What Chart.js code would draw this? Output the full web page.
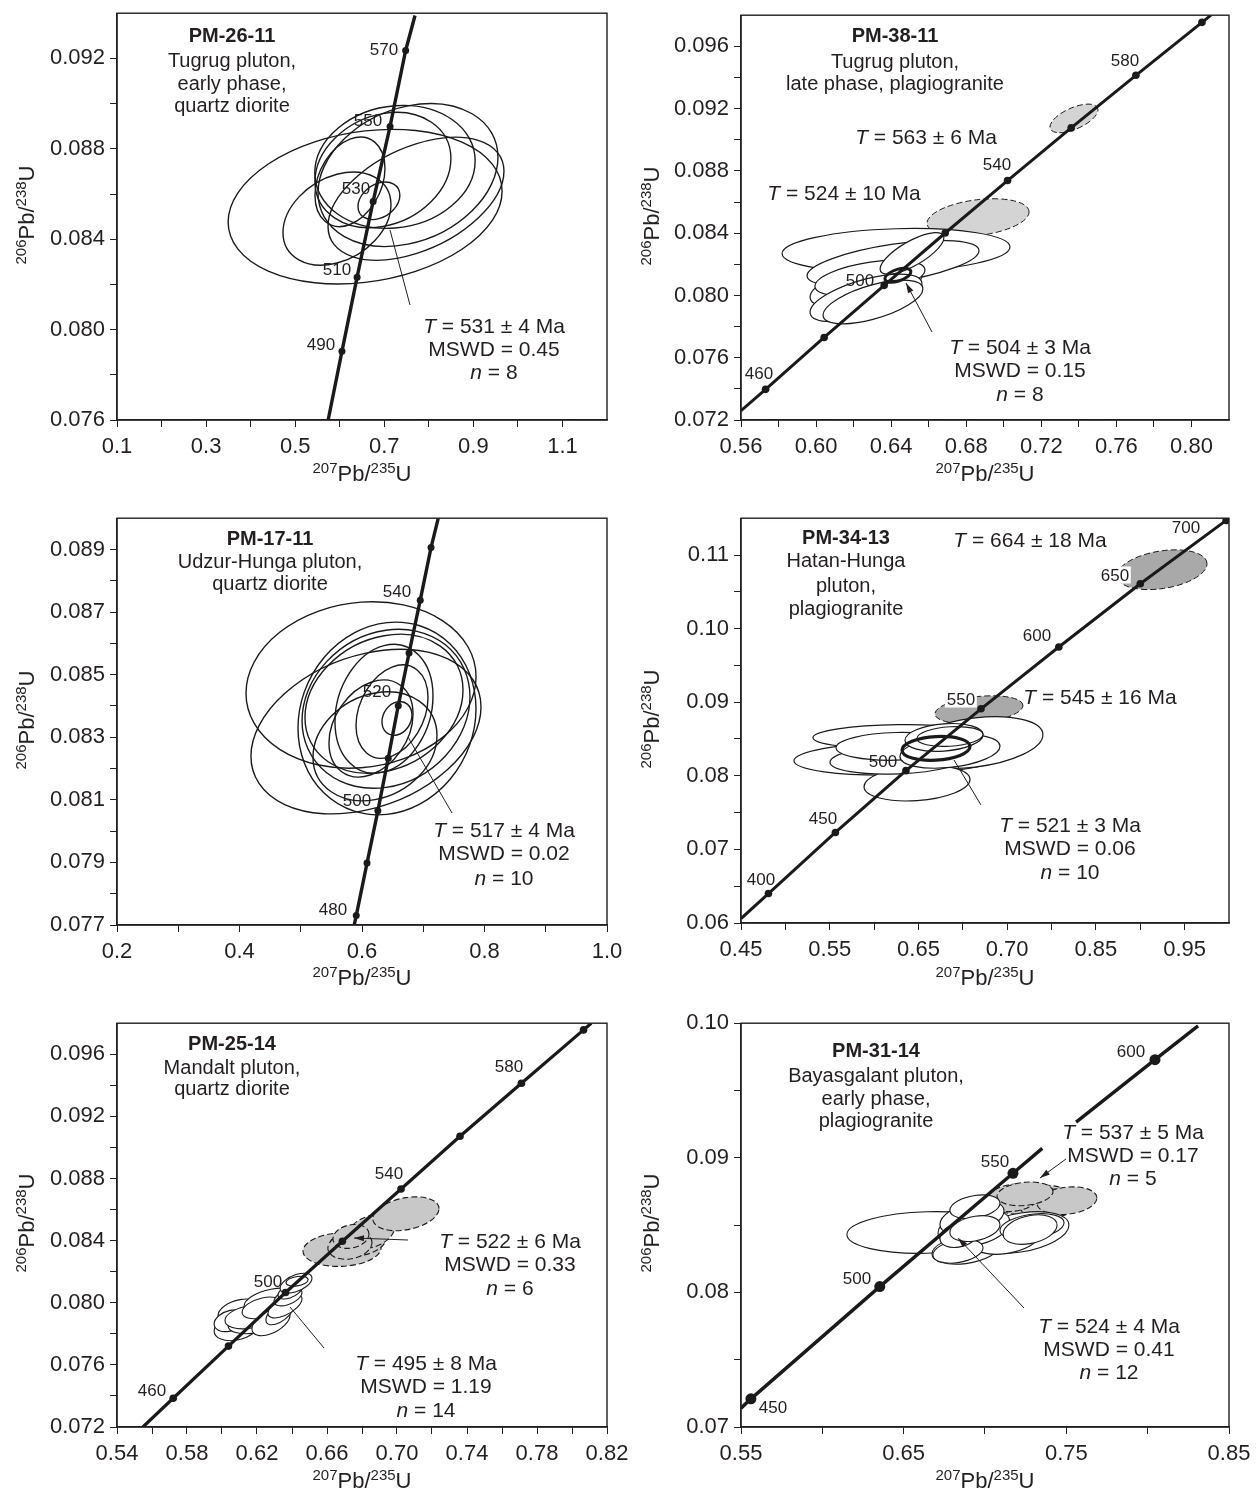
<!DOCTYPE html>
<html>
<head>
<meta charset="utf-8">
<script src="https://cdn.jsdelivr.net/npm/chart.js@4.4.1/dist/chart.umd.min.js"></script>
<style>
  body { margin: 0; background: #fff; }
  #wrap { position: relative; width: 1256px; height: 1493px; overflow: hidden; background: #fff;
          font-family: 'Liberation Sans', Arial, Helvetica, sans-serif; color: #231f20; }
  canvas { position: absolute; }
  svg { position: absolute; left: 0; top: 0; }
  .note { position: absolute; transform: translate(-50%, -50%); white-space: nowrap; line-height: 1; }
  .title { font-weight: bold; font-size: 20px; }
  .desc { font-size: 20px; }
  .t { font-size: 21px; }
  .age { font-size: 17px; }
  .wbg { background: #fff; padding: 0 2px; }
  .axis { font-size: 22px; }
  .axis sup { font-size: 15px; vertical-align: baseline; position: relative; top: -8px; }
  .rot { transform: translate(-50%, -50%) rotate(-90deg); }
</style>
</head>
<body>
<div id="wrap"></div>
<script>
// ---- PM-26-11 ----
const p1XTicks = [0.1, 0.2, 0.3, 0.4, 0.5, 0.6, 0.7, 0.8, 0.9, 1.0, 1.1];
const p1XLabels = ['0.1', '', '0.3', '', '0.5', '', '0.7', '', '0.9', '', '1.1'];
const p1YTicks = [0.076, 0.078, 0.080, 0.082, 0.084, 0.086, 0.088, 0.090, 0.092];
const p1YLabels = ['0.076', '', '0.080', '', '0.084', '', '0.088', '', '0.092'];
const p1LineX = [0.574, 0.605, 0.639, 0.675, 0.713, 0.748, 0.769];
const p1LineY = [0.0760, 0.07904, 0.08232, 0.08567, 0.08899, 0.09235, 0.0939];
const p1MarkX = [0.605, 0.639, 0.675, 0.713, 0.748];
const p1MarkY = [0.07904, 0.08232, 0.08567, 0.08899, 0.09235];
const p1Ellipses = [
  [0.657, 0.08544, 0.3075, 0.00342, 0.2],
  [0.5938, 0.08491, 0.1212, 0.00206, 0.3],
  [0.697, 0.08706, 0.1526, 0.00255, 0.2],
  [0.7532, 0.08684, 0.202, 0.00316, 0.25],
  [0.7712, 0.08579, 0.1975, 0.00272, 0.45],
  [0.623, 0.08654, 0.0786, 0.00198, 0.3],
  [0.688, 0.0857, 0.047, 0.00083, 0.3],
  [0.724, 0.0872, 0.18, 0.00272, 0.1]
];

// ---- PM-38-11 ----
const p2XTicks = [0.56, 0.58, 0.60, 0.62, 0.64, 0.66, 0.68, 0.70, 0.72, 0.74, 0.76, 0.78, 0.80];
const p2XLabels = ['0.56', '', '0.60', '', '0.64', '', '0.68', '', '0.72', '', '0.76', '', '0.80'];
const p2YTicks = [0.072, 0.074, 0.076, 0.078, 0.080, 0.082, 0.084, 0.086, 0.088, 0.090, 0.092, 0.094, 0.096];
const p2YLabels = ['0.072', '', '0.076', '', '0.080', '', '0.084', '', '0.088', '', '0.092', '', '0.096'];
const p2LineX = [0.56, 0.5731, 0.6043, 0.6363, 0.6688, 0.7020, 0.7359, 0.7704, 0.8056, 0.8104];
const p2LineY = [0.0726, 0.07397, 0.07730, 0.08065, 0.08401, 0.08738, 0.09076, 0.09414, 0.09754, 0.098];
const p2MarkX = [0.5731, 0.6043, 0.6363, 0.6688, 0.7020, 0.7359, 0.7704, 0.8056];
const p2MarkY = [0.07397, 0.07730, 0.08065, 0.08401, 0.08738, 0.09076, 0.09414, 0.09754];
const p2Grey = [
  [0.7374, 0.09137, 0.0128, 0.00092, 0.6],
  [0.6863, 0.0850, 0.0272, 0.00121, 0.3]
];
const p2White = [
  [0.6426, 0.0829, 0.0607, 0.0014, 0.15],
  [0.641, 0.08207, 0.0458, 0.00147, 0.55],
  [0.6266, 0.0806, 0.0298, 0.0014, 0.5],
  [0.6287, 0.08111, 0.0293, 0.00115, 0.45],
  [0.6266, 0.07984, 0.0298, 0.00153, 0.6],
  [0.6303, 0.07958, 0.0266, 0.0014, 0.6],
  [0.6511, 0.0827, 0.017, 0.00134, 0.75]
];
const p2Mean = [[0.6436, 0.0813, 0.0069, 0.00045, 0.5]];

// ---- PM-17-11 ----
const p3XTicks = [0.2, 0.3, 0.4, 0.5, 0.6, 0.7, 0.8, 0.9, 1.0];
const p3XLabels = ['0.2', '', '0.4', '', '0.6', '', '0.8', '', '1.0'];
const p3YTicks = [0.077, 0.078, 0.079, 0.080, 0.081, 0.082, 0.083, 0.084, 0.085, 0.086, 0.087, 0.088, 0.089];
const p3YLabels = ['0.077', '', '0.079', '', '0.081', '', '0.083', '', '0.085', '', '0.087', '', '0.089'];
const p3LineX = [0.5873, 0.5906, 0.6082, 0.6259, 0.6428, 0.6592, 0.6768, 0.6951, 0.7127, 0.7245];
const p3LineY = [0.077, 0.0773, 0.07898, 0.08065, 0.08233, 0.08401, 0.08569, 0.08738, 0.08906, 0.090];
const p3MarkX = [0.5906, 0.6082, 0.6259, 0.6428, 0.6592, 0.6768, 0.6951, 0.7127];
const p3MarkY = [0.0773, 0.07898, 0.08065, 0.08233, 0.08401, 0.08569, 0.08738, 0.08906];
const p3Ellipses = [
  [0.5984, 0.08467, 0.1878, 0.00266, 0.1],
  [0.6065, 0.08318, 0.1878, 0.00263, 0.3],
  [0.6408, 0.0836, 0.1453, 0.00308, 0.1],
  [0.6392, 0.08391, 0.1371, 0.00254, 0.15],
  [0.6359, 0.08407, 0.129, 0.00222, 0.2],
  [0.6359, 0.08391, 0.08, 0.00206, 0.2],
  [0.6147, 0.08328, 0.0686, 0.00155, 0.3],
  [0.649, 0.08382, 0.0588, 0.00149, 0.3],
  [0.6571, 0.0836, 0.0245, 0.00054, 0.2],
  [0.6212, 0.08271, 0.1012, 0.00174, 0.2]
];

// ---- PM-34-13 ----
const p4XTicks = [0.45, 0.50, 0.55, 0.60, 0.65, 0.70, 0.75, 0.80, 0.85, 0.90, 0.95];
const p4XLabels = ['0.45', '', '0.55', '', '0.65', '', '0.70', '', '0.85', '', '0.95'];
const p4YTicks = [0.06, 0.065, 0.07, 0.075, 0.08, 0.085, 0.09, 0.095, 0.10, 0.105, 0.11];
const p4YLabels = ['0.06', '', '0.07', '', '0.08', '', '0.09', '', '0.10', '', '0.11'];
const p4LineX = [0.45, 0.4809, 0.5564, 0.6359, 0.7205, 0.8082, 0.9000, 0.9968];
const p4LineY = [0.0606, 0.0640, 0.0723, 0.0807, 0.0891, 0.0975, 0.1061, 0.1147];
const p4MarkX = [0.4809, 0.5564, 0.6359, 0.7205, 0.8082, 0.9000, 0.9968];
const p4MarkY = [0.0640, 0.0723, 0.0807, 0.0891, 0.0975, 0.1061, 0.1147];
const p4Grey = [
  [0.9245, 0.108, 0.0507, 0.0027, 0.3],
  [0.7182, 0.08898, 0.0496, 0.00189, 0.3]
];
const p4White = [
  [0.6258, 0.08238, 0.1161, 0.00229, 0.15],
  [0.6269, 0.08534, 0.0958, 0.00162, 0.1],
  [0.7137, 0.08453, 0.0766, 0.0035, 0.3],
  [0.6484, 0.07901, 0.0597, 0.00243, 0.2],
  [0.6281, 0.08224, 0.0778, 0.00202, 0.2],
  [0.6247, 0.084, 0.0676, 0.00189, 0.1],
  [0.6855, 0.08332, 0.0564, 0.00229, 0.3],
  [0.6788, 0.08521, 0.044, 0.00189, 0.2],
  [0.6855, 0.08534, 0.0372, 0.00135, 0.2]
];
const p4Mean = [[0.6698, 0.08373, 0.0383, 0.00162, 0.15]];

// ---- PM-25-14 ----
const p5XTicks = [0.54, 0.56, 0.58, 0.60, 0.62, 0.64, 0.66, 0.68, 0.70, 0.72, 0.74, 0.76, 0.78, 0.80, 0.82];
const p5XLabels = ['0.54', '', '0.58', '', '0.62', '', '0.66', '', '0.70', '', '0.74', '', '0.78', '', '0.82'];
const p5YTicks = [0.072, 0.074, 0.076, 0.078, 0.080, 0.082, 0.084, 0.086, 0.088, 0.090, 0.092, 0.094, 0.096];
const p5YLabels = ['0.072', '', '0.076', '', '0.080', '', '0.084', '', '0.088', '', '0.092', '', '0.096'];
const p5LineX = [0.5548, 0.5721, 0.6037, 0.6363, 0.6688, 0.7023, 0.7360, 0.7711, 0.8066, 0.8110];
const p5LineY = [0.072, 0.07385, 0.07721, 0.08066, 0.08396, 0.08732, 0.09072, 0.09413, 0.09757, 0.098];
const p5MarkX = [0.5721, 0.6037, 0.6363, 0.6688, 0.7023, 0.7360, 0.7711, 0.8066];
const p5MarkY = [0.07385, 0.07721, 0.08066, 0.08396, 0.08732, 0.09072, 0.09413, 0.09757];
const p5Grey = [
  [0.6686, 0.08343, 0.0223, 0.00109, 0.1],
  [0.6777, 0.08395, 0.016, 0.00096, 0.2],
  [0.6851, 0.08458, 0.0137, 0.00109, 0.3],
  [0.7051, 0.08573, 0.0189, 0.00109, 0.3],
  [0.6731, 0.08369, 0.0126, 0.00089, 0.2],
  [0.6737, 0.08427, 0.0103, 0.00077, 0.2]
];
const p5White = [
  [0.6086, 0.07845, 0.0131, 0.00089, 0.3],
  [0.6103, 0.07941, 0.0126, 0.00083, 0.3],
  [0.6046, 0.07884, 0.0091, 0.0007, 0.3],
  [0.6206, 0.07884, 0.0171, 0.00083, 0.4],
  [0.616, 0.07909, 0.0143, 0.00077, 0.3],
  [0.628, 0.08011, 0.0154, 0.00083, 0.4],
  [0.6229, 0.07967, 0.0114, 0.0007, 0.4],
  [0.628, 0.07877, 0.0109, 0.00089, 0.5],
  [0.6331, 0.07935, 0.008, 0.00077, 0.6],
  [0.636, 0.07979, 0.0097, 0.00077, 0.6],
  [0.6377, 0.08037, 0.008, 0.00057, 0.5],
  [0.6389, 0.08075, 0.0069, 0.00051, 0.5],
  [0.6423, 0.08126, 0.0091, 0.00064, 0.5],
  [0.6429, 0.08139, 0.0063, 0.00032, 0.3]
];

// ---- PM-31-14 ----
const p6XTicks = [0.55, 0.60, 0.65, 0.70, 0.75, 0.80, 0.85];
const p6XLabels = ['0.55', '', '0.65', '', '0.75', '', '0.85'];
const p6YTicks = [0.07, 0.075, 0.08, 0.085, 0.09, 0.095, 0.10];
const p6YLabels = ['0.07', '', '0.08', '', '0.09', '', '0.10'];
const p6LineAX = [0.55, 0.5561, 0.6353, 0.7172, 0.7352];
const p6LineAY = [0.0714, 0.07209, 0.08043, 0.08885, 0.0907];
const p6LineBX = [0.756, 0.8045, 0.831];
const p6LineBY = [0.09265, 0.09729, 0.0998];
const p6MarkX = [0.5561, 0.6353, 0.7172, 0.8045];
const p6MarkY = [0.07209, 0.08043, 0.08885, 0.09729];
const p6Grey = [
  [0.7289, 0.08688, 0.0252, 0.0011, 0.2],
  [0.74, 0.08658, 0.0184, 0.0011, 0.2],
  [0.7504, 0.08681, 0.0184, 0.00103, 0.2],
  [0.7172, 0.08703, 0.0166, 0.00103, 0.2],
  [0.7246, 0.08732, 0.0172, 0.00088, 0.2]
];
const p6White = [
  [0.6643, 0.08445, 0.0492, 0.00155, 0.1],
  [0.7221, 0.08445, 0.0295, 0.00155, 0.35],
  [0.6883, 0.08319, 0.0209, 0.0011, 0.3],
  [0.7129, 0.08393, 0.0203, 0.0011, 0.3],
  [0.6932, 0.08482, 0.0221, 0.0014, 0.3],
  [0.7289, 0.08489, 0.0197, 0.00096, 0.3],
  [0.7277, 0.08467, 0.0166, 0.0011, 0.3],
  [0.692, 0.08555, 0.0197, 0.00125, 0.4],
  [0.6938, 0.08636, 0.0154, 0.00088, 0.3],
  [0.6834, 0.08305, 0.0154, 0.00088, 0.3],
  [0.6846, 0.0843, 0.0123, 0.00096, 0.3],
  [0.6938, 0.08474, 0.0154, 0.00096, 0.3]
];

const wrap = document.getElementById('wrap');
Chart.defaults.font.family = "'Liberation Sans', Arial, Helvetica, sans-serif";
Chart.defaults.color = '#231f20';

function pts(xs, ys) { return xs.map((x, i) => ({ x: x, y: ys[i] })); }

// error ellipses: [centre x, centre y, half-width x, half-height y, correlation]
function ellipseLayer(groups) {
  return {
    id: 'ellipseLayer',
    beforeDatasetsDraw(chart) {
      const ctx = chart.ctx, xs = chart.scales.x, ys = chart.scales.y, a = chart.chartArea;
      ctx.save();
      ctx.beginPath(); ctx.rect(a.left, a.top, a.right - a.left, a.bottom - a.top); ctx.clip();
      groups.forEach(g => g.list.forEach(e => {
        const px = xs.getPixelForValue(e[0]), py = ys.getPixelForValue(e[1]);
        const kx = xs.getPixelForValue(e[0] + e[2]) - px;
        const ky = ys.getPixelForValue(e[1] + e[3]) - py;
        const r = e[4], s = Math.sqrt(1 - r * r);
        ctx.save();
        ctx.transform(kx, ky * r, 0, ky * s, px, py);
        ctx.beginPath();
        ctx.arc(0, 0, 1, 0, Math.PI * 2);
        ctx.closePath();
        ctx.restore();
        if (g.fill) { ctx.fillStyle = g.fill; ctx.fill(); }
        ctx.setLineDash(g.dash || []);
        ctx.lineWidth = g.width;
        ctx.strokeStyle = '#1a1a1a';
        ctx.stroke();
      }));
      ctx.restore();
    }
  };
}

const frame = {
  id: 'frame',
  afterDraw(chart) {
    const a = chart.chartArea, ctx = chart.ctx;
    ctx.save();
    ctx.strokeStyle = '#231f20'; ctx.lineWidth = 1.4;
    ctx.strokeRect(a.left, a.top, a.right - a.left, a.bottom - a.top);
    ctx.restore();
  }
};

function axis(dir, r, ticks, labels, size) {
  return {
    type: 'linear', min: r[0], max: r[1],
    afterBuildTicks: s => { s.ticks = ticks.map(v => ({ value: v })); },
    afterFit: s => { if (dir === 'x') s.height = size; else s.width = size; },
    ticks: {
      autoSkip: false, maxRotation: 0, minRotation: 0,
      padding: dir === 'x' ? 7 : 5,
      font: { size: 22 }, color: '#231f20',
      callback: (v, i) => labels[i]
    },
    grid: { drawOnChartArea: false, drawTicks: true, tickLength: 7, color: '#231f20', lineWidth: 1 },
    border: { display: true, color: '#231f20', width: 1.4 }
  };
}

function panel(box, xr, yr, xt, xl, yt, yl, lines, marks, mr, lw, groups) {
  const PL = 110, PT = 15, PR = 30, PB = 50;
  const cv = document.createElement('canvas');
  cv.width = box[2] - box[0] + PL + PR;
  cv.height = box[3] - box[1] + PT + PB;
  cv.style.left = (box[0] - PL) + 'px';
  cv.style.top = (box[1] - PT) + 'px';
  wrap.appendChild(cv);
  const ds = [{ data: pts(marks[0], marks[1]), showLine: false, pointRadius: mr,
                pointBackgroundColor: '#1a1a1a', pointBorderWidth: 0 }];
  lines.forEach(l => ds.push({ data: pts(l[0], l[1]), showLine: true, borderColor: '#1a1a1a',
                               borderWidth: lw, pointRadius: 0, fill: false }));
  new Chart(cv, {
    type: 'scatter',
    data: { datasets: ds },
    options: {
      responsive: false, animation: false, events: [],
      layout: { padding: { left: 0, top: PT, right: PR, bottom: 0 } },
      plugins: { legend: { display: false }, tooltip: { enabled: false } },
      scales: { x: axis('x', xr, xt, xl, PB), y: axis('y', yr, yt, yl, PL) }
    },
    plugins: [ellipseLayer(groups), frame]
  });
}

panel([117, 10, 607, 420], [0.1, 1.2], [0.076, 0.094], p1XTicks, p1XLabels, p1YTicks, p1YLabels,
  [[p1LineX, p1LineY]], [p1MarkX, p1MarkY], 3.5, 3.4,
  [{ list: p1Ellipses, width: 1.4 }]);
panel([741, 12, 1229, 420], [0.56, 0.82], [0.072, 0.098], p2XTicks, p2XLabels, p2YTicks, p2YLabels,
  [[p2LineX, p2LineY]], [p2MarkX, p2MarkY], 3.8, 3,
  [{ list: p2Grey, fill: '#d4d4d4', dash: [6, 3], width: 1 },
   { list: p2White, fill: '#ffffff', width: 1.2 },
   { list: p2Mean, width: 3 }]);
panel([117, 515, 607, 925], [0.2, 1.0], [0.077, 0.090], p3XTicks, p3XLabels, p3YTicks, p3YLabels,
  [[p3LineX, p3LineY]], [p3MarkX, p3MarkY], 3.5, 3.4,
  [{ list: p3Ellipses, width: 1.4 }]);
panel([741, 515, 1229, 923], [0.45, 1.0], [0.06, 0.115], p4XTicks, p4XLabels, p4YTicks, p4YLabels,
  [[p4LineX, p4LineY]], [p4MarkX, p4MarkY], 3.8, 3,
  [{ list: p4Grey, fill: '#a9a9a9', dash: [6, 3], width: 1 },
   { list: p4White, fill: '#ffffff', width: 1.2 },
   { list: p4Mean, width: 3.2 }]);
panel([117, 1020, 607, 1427], [0.54, 0.82], [0.072, 0.098], p5XTicks, p5XLabels, p5YTicks, p5YLabels,
  [[p5LineX, p5LineY]], [p5MarkX, p5MarkY], 3.8, 3.2,
  [{ list: p5Grey, fill: '#c8c8c8', dash: [6, 3], width: 1.1 },
   { list: p5White, fill: '#ffffff', width: 1.1 }]);
panel([741, 1020, 1229, 1427], [0.55, 0.85], [0.07, 0.10], p6XTicks, p6XLabels, p6YTicks, p6YLabels,
  [[p6LineAX, p6LineAY], [p6LineBX, p6LineBY]], [p6MarkX, p6MarkY], 5.5, 3.4,
  [{ list: p6Grey, fill: '#c8c8c8', dash: [6, 3], width: 1.1 },
   { list: p6White, fill: '#ffffff', width: 1.1 }]);

// text annotations (page pixels, centre)
const AX = '<sup>207</sup>Pb/<sup>235</sup>U';
const AY = '<sup>206</sup>Pb/<sup>238</sup>U';
const notes = [
  [232, 35, 'PM-26-11', 'title'], [232, 60, 'Tugrug pluton,', 'desc'], [232, 83, 'early phase,', 'desc'], [232, 105, 'quartz diorite', 'desc'],
  [384, 49, '570', 'age'], [368, 120, '550', 'age'], [356, 188, '530', 'age'], [337, 269, '510', 'age'], [321, 344, '490', 'age'],
  [494, 325, '<i>T</i> = 531 ± 4 Ma', 't'], [494, 348, 'MSWD = 0.45', 't'], [494, 371, '<i>n</i> = 8', 't'],
  [362, 474, AX, 'axis'], [27, 215, AY, 'axis rot'],

  [895, 35, 'PM-38-11', 'title'], [895, 61, 'Tugrug pluton,', 'desc'], [895, 83, 'late phase, plagiogranite', 'desc'],
  [926, 136, '<i>T</i> = 563 ± 6 Ma', 't'], [844, 192, '<i>T</i> = 524 ± 10 Ma', 't'],
  [1125, 60, '580', 'age'], [997, 164, '540', 'age'], [860, 280, '500', 'age'], [759, 373, '460', 'age'],
  [1020, 346, '<i>T</i> = 504 ± 3 Ma', 't'], [1020, 369, 'MSWD = 0.15', 't'], [1020, 393, '<i>n</i> = 8', 't'],
  [985, 474, AX, 'axis'], [652, 216, AY, 'axis rot'],

  [270, 538, 'PM-17-11', 'title'], [270, 561, 'Udzur-Hunga pluton,', 'desc'], [270, 583, 'quartz diorite', 'desc'],
  [397, 591, '540', 'age'], [377, 691, '520', 'age'], [357, 800, '500', 'age'], [333, 909, '480', 'age'],
  [504, 829, '<i>T</i> = 517 ± 4 Ma', 't'], [504, 852, 'MSWD = 0.02', 't'], [504, 877, '<i>n</i> = 10', 't'],
  [362, 978, AX, 'axis'], [27, 720, AY, 'axis rot'],

  [846, 537, 'PM-34-13', 'title'], [846, 560, 'Hatan-Hunga', 'desc'], [846, 585, 'pluton,', 'desc'], [846, 608, 'plagiogranite', 'desc'],
  [1030, 539, '<i>T</i> = 664 ± 18 Ma', 't'], [1100, 696, '<i>T</i> = 545 ± 16 Ma', 't'],
  [1186, 527, '700', 'age'], [1115, 575, '650', 'age wbg'], [1037, 635, '600', 'age'], [961, 699, '550', 'age wbg'],
  [883, 761, '500', 'age'], [823, 818, '450', 'age'], [761, 879, '400', 'age'],
  [1070, 824, '<i>T</i> = 521 ± 3 Ma', 't'], [1070, 847, 'MSWD = 0.06', 't'], [1070, 871, '<i>n</i> = 10', 't'],
  [985, 978, AX, 'axis'], [652, 719, AY, 'axis rot'],

  [232, 1043, 'PM-25-14', 'title'], [232, 1067, 'Mandalt pluton,', 'desc'], [232, 1088, 'quartz diorite', 'desc'],
  [509, 1066, '580', 'age'], [389, 1173, '540', 'age'], [268, 1281, '500', 'age'], [152, 1390, '460', 'age'],
  [510, 1240, '<i>T</i> = 522 ± 6 Ma', 't'], [510, 1263, 'MSWD = 0.33', 't'], [510, 1287, '<i>n</i> = 6', 't'],
  [426, 1362, '<i>T</i> = 495 ± 8 Ma', 't'], [426, 1385, 'MSWD = 1.19', 't'], [426, 1409, '<i>n</i> = 14', 't'],
  [362, 1481, AX, 'axis'], [27, 1223, AY, 'axis rot'],

  [876, 1050, 'PM-31-14', 'title'], [876, 1075, 'Bayasgalant pluton,', 'desc'], [876, 1098, 'early phase,', 'desc'], [876, 1120, 'plagiogranite', 'desc'],
  [1131, 1051, '600', 'age'], [995, 1161, '550', 'age'], [857, 1278, '500', 'age'], [773, 1407, '450', 'age'],
  [1133, 1131, '<i>T</i> = 537 ± 5 Ma', 't'], [1133, 1154, 'MSWD = 0.17', 't'], [1133, 1177, '<i>n</i> = 5', 't'],
  [1109, 1325, '<i>T</i> = 524 ± 4 Ma', 't'], [1109, 1348, 'MSWD = 0.41', 't'], [1109, 1371, '<i>n</i> = 12', 't'],
  [985, 1481, AX, 'axis'], [652, 1223, AY, 'axis rot']
];

// leader lines [x1, y1, x2, y2, arrowhead at end]
const leaders = [
  [410, 305, 390, 230, 0], [932, 332, 906, 283, 1], [452, 813, 408, 737, 0], [981, 805, 954, 760, 0],
  [408, 1240, 354, 1238, 1], [324, 1348, 290, 1307, 0], [1066, 1159, 1040, 1178, 1], [1024, 1308, 958, 1238, 1]
];

const NS = 'http://www.w3.org/2000/svg';
const svg = document.createElementNS(NS, 'svg');
svg.setAttribute('width', 1256); svg.setAttribute('height', 1493);
leaders.forEach(l => {
  const ln = document.createElementNS(NS, 'line');
  ln.setAttribute('x1', l[0]); ln.setAttribute('y1', l[1]);
  ln.setAttribute('x2', l[2]); ln.setAttribute('y2', l[3]);
  ln.setAttribute('stroke', '#231f20'); ln.setAttribute('stroke-width', 1);
  svg.appendChild(ln);
  if (l[4]) {
    const dx = l[2] - l[0], dy = l[3] - l[1], len = Math.hypot(dx, dy);
    const ux = dx / len, uy = dy / len, bx = l[2] - ux * 10, by = l[3] - uy * 10;
    const p = document.createElementNS(NS, 'polygon');
    p.setAttribute('points', `${l[2]},${l[3]} ${bx - uy * 3},${by + ux * 3} ${bx + uy * 3},${by - ux * 3}`);
    p.setAttribute('fill', '#231f20');
    svg.appendChild(p);
  }
});
wrap.appendChild(svg);

notes.forEach(n => {
  const d = document.createElement('div');
  d.className = 'note ' + n[3];
  d.style.left = n[0] + 'px';
  d.style.top = n[1] + 'px';
  d.innerHTML = n[2];
  wrap.appendChild(d);
});
</script>
</body>
</html>
